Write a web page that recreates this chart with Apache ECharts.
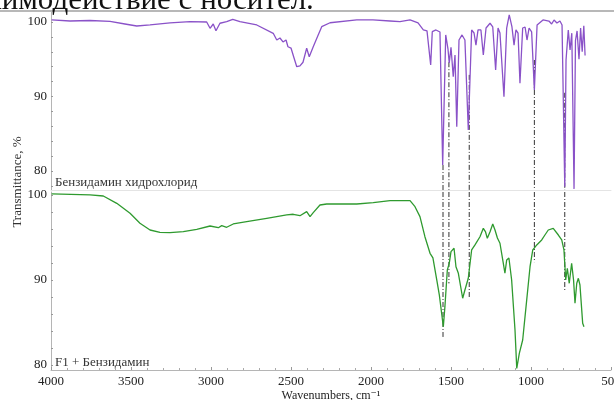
<!DOCTYPE html>
<html>
<head>
<meta charset="utf-8">
<script src="https://cdn.jsdelivr.net/npm/echarts@6/dist/echarts.min.js"></script>
<style>
  html, body { margin: 0; padding: 0; background: #fff; }
  #chart { width: 614px; height: 400px; }
</style>
</head>
<body>
<div id="chart"></div>
<script>
// Benzydamine hydrochloride (upper trace): wavenumber, cm-1 / transmittance, %
const wavePurple = [3996,3881,3756,3631,3538,3464,3381,3256,3131,3027,3006,2986,2969,2944,2902,2864,2819,2714,2611,2589,2569,2550,2531,2519,2500,2481,2464,2444,2425,2402,2386,2361,2338,2308,2256,2089,1988,1881,1819,1756,1706,1673,1650,1627,1617,1594,1569,1552,1533,1519,1511,1500,1486,1475,1464,1450,1431,1413,1392,1371,1356,1344,1331,1313,1298,1281,1256,1239,1221,1206,1194,1169,1152,1136,1119,1106,1094,1081,1069,1052,1037,1025,1012,996,979,962,925,888,871,856,838,819,806,789,781,767,756,745,731,722,712,700,690,680,670,662];
const transPurple = [100.27,100.13,100.2,100.07,99.73,99.46,99.6,99.87,100.04,100,99.15,99.73,98.83,99.83,100.04,100.36,100.04,99.6,98.48,97.58,97.85,97.32,97.58,96.68,96.5,95.17,94.0,94.1,94.6,96.47,95.34,96.68,97.85,99.37,99.9,100.27,100.27,100.13,100.04,100.27,99.87,98.93,98.8,94.23,98.7,98.93,98.66,80.8,98.26,96.4,94.5,96.6,92.66,95.57,85.95,97.58,98.26,97.58,85.5,98.93,98.52,96.9,98.93,98.93,95.57,99.19,99.83,99.33,93.56,99.19,98.52,89.97,99.19,100.94,99.33,96.9,98.93,98.52,91.77,99.19,99.33,97.58,99.19,98.66,90.87,99.6,100.27,100.13,99.73,100.27,99.87,100.13,99.6,77.9,94.9,98.93,96.24,98.5,77.6,97.5,98.8,95.0,99.2,96.0,99.5,95.5];

// F1 + benzydamine (lower trace)
const waveGreen = [3996,3756,3673,3589,3506,3444,3381,3319,3256,3173,3089,3006,2954,2933,2902,2861,2777,2652,2527,2486,2444,2402,2381,2361,2319,2277,2089,1986,1881,1756,1725,1694,1663,1631,1621,1613,1589,1573,1562,1548,1538,1523,1511,1500,1481,1469,1454,1427,1413,1392,1371,1350,1319,1298,1284,1273,1256,1239,1225,1210,1194,1173,1163,1152,1138,1121,1100,1089,1073,1052,1031,1006,989,964,933,913,892,861,829,808,794,783,773,761,746,734,725,714,704,694,677,669];
const transGreen = [100.12,100,99.88,99.02,97.85,96.67,95.88,95.61,95.56,95.68,95.96,96.35,96.15,96.39,96.2,96.59,96.86,97.26,97.65,97.73,97.56,98.04,97.45,97.92,98.82,98.94,98.94,99.09,99.33,99.33,98.62,97.45,95.09,93.14,92.94,92.6,90,88.24,88.1,84.5,86.86,91.18,91.96,93.33,93.73,91.56,90.79,87.85,88.82,90.2,93.53,94.12,95.09,96.08,95.65,94.9,95.68,96.59,95.88,94.94,94.32,91.96,90.79,92.35,92.59,90,84.12,79.6,81.37,82.94,86.86,91.56,93.53,94.12,94.71,95.29,95.88,96.08,95.29,94.71,93.53,90,91.38,89.61,91.96,90,87.26,89.61,90.2,89.41,84.9,84.5];

// Correlated bands: position, where the guide leaves the upper trace, where it meets the lower one
const bandWave = [1550, 1513, 1386, 979, 789];
const bandTop = [80.8, 94.6, 92.9, 94.9, 90.5];
const bandBottom = [83.3, 89.6, 88.0, 92.1, 88.8];

const xTicks = [4000, 3500, 3000, 2500, 2000, 1500, 1000, 500];
const yTickLabels = [80, 90, 100];
const yMinorTicks = [78, 80, 82, 84, 86, 88, 90, 92, 94, 96, 98, 100];

const topTitle = 'Бензидамин хидрохлорид';
const bottomTitle = 'F1 + Бензидамин';
const yName = 'Transmittance, %';
const xName = 'Wavenumbers, cm\u207B\u00B9';
const pageText = 'взаимодействие с носител.';

// axis windows of the two stacked panels
const TOP_MIN = 77.45, TOP_MAX = 101.34;
const BOT_MIN = 79.41, BOT_MAX = 100.35;

const SERIF = '"Liberation Serif", "DejaVu Serif", serif';
const pair = (ws, ts) => ws.map((w, i) => [w, ts[i]]);
const plain = v => String(v);

const chart = echarts.init(document.getElementById('chart'), null, { renderer: 'canvas' });

function yAxisFor(idx, min, max) {
  return {
    type: 'value', gridIndex: idx, min: min, max: max,
    axisLine: { show: true, lineStyle: { color: '#b5b5b5', width: 1 } },
    axisTick: { show: true, inside: true, length: 2, customValues: yMinorTicks, lineStyle: { color: '#999' } },
    axisLabel: { customValues: yTickLabels, formatter: plain, color: '#222', fontFamily: SERIF, fontSize: 13, margin: 4 },
    splitLine: { show: false }
  };
}

function xAxisFor(idx, showLabels) {
  return {
    type: 'value', gridIndex: idx, inverse: true, min: 500, max: 4000, interval: 500,
    axisLine: { show: true, onZero: false, lineStyle: { color: showLabels ? '#b5b5b5' : '#e4e4e4', width: 1 } },
    axisTick: { show: showLabels, inside: true, length: 3, lineStyle: { color: '#999' } },
    minorTick: { show: showLabels, splitNumber: 5, length: 2, lineStyle: { color: '#aaa' } },
    axisLabel: { show: showLabels, formatter: plain, color: '#222', fontFamily: SERIF, fontSize: 13, margin: 5,
                 customValues: xTicks, hideOverlap: false },
    splitLine: { show: false },
    name: showLabels ? xName : '',
    nameLocation: 'middle', nameGap: 20,
    nameTextStyle: { color: '#222', fontFamily: SERIF, fontSize: 12 }
  };
}

const series = [
  { type: 'line', xAxisIndex: 0, yAxisIndex: 0, data: pair(wavePurple, transPurple),
    showSymbol: false, lineStyle: { color: '#8a52c8', width: 1.3 }, z: 3, animation: false },
  { type: 'line', xAxisIndex: 1, yAxisIndex: 1, data: pair(waveGreen, transGreen),
    showSymbol: false, lineStyle: { color: '#2f9a2f', width: 1.3 }, z: 3, animation: false }
];

// dash-dot guides, drawn in both panels
bandWave.forEach((w, i) => {
  const style = { color: '#333', width: 1, type: [5, 2, 1, 2] };
  series.push({ type: 'line', xAxisIndex: 0, yAxisIndex: 0, showSymbol: false, z: 2, animation: false,
    data: [[w, bandTop[i]], [w, TOP_MIN]], lineStyle: style });
  series.push({ type: 'line', xAxisIndex: 1, yAxisIndex: 1, showSymbol: false, z: 2, animation: false,
    data: [[w, BOT_MAX], [w, bandBottom[i]]], lineStyle: style });
});

chart.setOption({
  animation: false,
  backgroundColor: '#fff',
  grid: [
    { left: 51, top: 12, width: 560, height: 178, containLabel: false, outerBoundsMode: 'none' },
    { left: 51, top: 192, width: 560, height: 178, containLabel: false, outerBoundsMode: 'none' }
  ],
  xAxis: [xAxisFor(0, false), xAxisFor(1, true)],
  yAxis: [yAxisFor(0, TOP_MIN, TOP_MAX), yAxisFor(1, BOT_MIN, BOT_MAX)],
  series: series,
  graphic: [
    { type: 'rect', shape: { x: 0, y: 10, width: 614, height: 2 }, style: { fill: '#b8b8b8' }, silent: true },
    { type: 'text', x: -39, y: 16, style: { text: pageText, font: '31px ' + SERIF, fill: '#111', verticalAlign: 'bottom' }, silent: true },
    { type: 'text', x: 55, y: 183, style: { text: topTitle, font: '13px ' + SERIF, fill: '#333', verticalAlign: 'middle' }, silent: true },
    { type: 'text', x: 55, y: 363, style: { text: bottomTitle, font: '13px ' + SERIF, fill: '#333', verticalAlign: 'middle' }, silent: true },
    { type: 'text', x: 18, y: 182, rotation: Math.PI / 2,
      style: { text: yName, font: '13px ' + SERIF, fill: '#333', align: 'center', verticalAlign: 'middle' }, silent: true }
  ]
});
</script>
</body>
</html>
